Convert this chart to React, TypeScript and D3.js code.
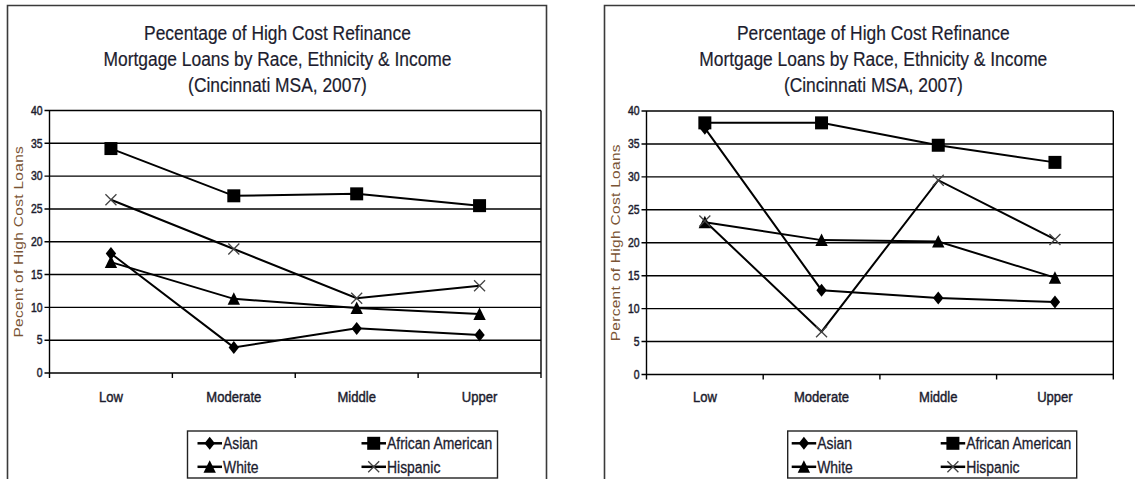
import React from 'react';
import * as d3 from 'd3';

// Income groups along the x axis
const categories = ['Low', 'Moderate', 'Middle', 'Upper'];
const yTicks = [0, 5, 10, 15, 20, 25, 30, 35, 40];
const seriesNames = ['Asian', 'African American', 'White', 'Hispanic'];

// Left panel values (percent)
const leftAsian = [18.2, 3.9, 6.8, 5.8];
const leftAfrican = [34.2, 27.0, 27.3, 25.5];
const leftWhite = [16.9, 11.3, 9.9, 9.0];
const leftHispanic = [26.4, 18.9, 11.4, 13.3];

// Right panel values (percent)
const rightAsian = [37.4, 12.8, 11.6, 11.0];
const rightAfrican = [38.2, 38.2, 34.8, 32.2];
const rightWhite = [23.1, 20.4, 20.2, 14.7];
const rightHispanic = [23.3, 6.5, 29.5, 20.5];

const font = '"Liberation Sans", Arial, sans-serif';
const textColor = '#1c1c2e';
const labelColor = '#7a5434';
const squeeze = 0.87; // the source image is a bit narrowed horizontally

type Panel = {
  frameX: number;
  frameRight: number;
  plotLeft: number;
  plotRight: number;
  plotTop: number;
  plotBottom: number;
  titleX: number;
  title: string[];
  yLabel: string;
  yLabelX: number;
  legendX: number;
  legendW: number;
  legendMark: number;
  legendCol2: number;
  series: number[][];
};

const panels: Panel[] = [
  {
    frameX: 7.5,
    frameRight: 546.5,
    plotLeft: 49.5,
    plotRight: 541,
    plotTop: 110.5,
    plotBottom: 373,
    titleX: 277.5,
    title: [
      'Pecentage of High Cost Refinance',
      'Mortgage Loans by Race, Ethnicity & Income',
      '(Cincinnati MSA, 2007)',
    ],
    yLabel: 'Pecent of High Cost Loans',
    yLabelX: 18.5,
    legendX: 187.5,
    legendW: 310,
    legendMark: 10,
    legendCol2: 164,
    series: [leftAsian, leftAfrican, leftWhite, leftHispanic],
  },
  {
    frameX: 604.5,
    frameRight: 1142,
    plotLeft: 646.5,
    plotRight: 1113.3,
    plotTop: 111,
    plotBottom: 374.5,
    titleX: 873.3,
    title: [
      'Percentage of High Cost Refinance',
      'Mortgage Loans by Race, Ethnicity & Income',
      '(Cincinnati MSA, 2007)',
    ],
    yLabel: 'Percent of High Cost Loans',
    yLabelX: 615.5,
    legendX: 787.7,
    legendW: 289,
    legendMark: 4,
    legendCol2: 149,
    series: [rightAsian, rightAfrican, rightWhite, rightHispanic],
  },
];

// Text squeezed horizontally to match the narrow look of the source
const SText: React.FC<{
  x: number;
  y: number;
  size: number;
  anchor?: 'start' | 'middle' | 'end';
  fill?: string;
  dy?: string;
  bold?: number;
  children: React.ReactNode;
}> = ({ x, y, size, anchor = 'start', fill = textColor, dy, bold = 0, children }) => (
  <text
    transform={`translate(${x},${y}) scale(${squeeze},1)`}
    fontFamily={font}
    fontSize={size}
    textAnchor={anchor}
    fill={fill}
    stroke={bold ? fill : 'none'}
    strokeWidth={bold}
    dy={dy}
  >
    {children}
  </text>
);

// Marker shapes: diamond, square, triangle, cross
const markerPaths = [
  'M0,-6.5L5.2,0L0,6.5L-5.2,0Z',
  'M-6.5,-6.5H6.5V6.5H-6.5Z',
  'M0,-6.5L6.2,6L-6.2,6Z',
];

const Marker: React.FC<{ kind: number; x: number; y: number }> = ({ kind, x, y }) => {
  if (kind === 3) {
    const s = 5.5;
    return (
      <path
        d={`M${x - s},${y - s}L${x + s},${y + s}M${x - s},${y + s}L${x + s},${y - s}`}
        stroke="#444"
        strokeWidth={1.3}
        fill="none"
      />
    );
  }
  return <path d={markerPaths[kind]} transform={`translate(${x},${y})`} fill="#000" />;
};

const ChartPanel: React.FC<{ p: Panel }> = ({ p }) => {
  const x = d3.scaleBand<string>().domain(categories).range([p.plotLeft, p.plotRight]).padding(0);
  const y = d3.scaleLinear().domain([0, 40]).range([p.plotBottom, p.plotTop]);
  const cx = (c: string) => (x(c) ?? 0) + x.bandwidth() / 2;
  const line = d3.line<number>()
    .x((_, i) => cx(categories[i]))
    .y((d) => y(d));
  const inner = categories.slice(1).map((c) => x(c) ?? 0);
  const legendY = 431;

  return (
    <g>
      {/* Outer frame */}
      <path
        d={`M${p.frameX},490V5.5H${p.frameRight}V490`}
        fill="none"
        stroke="#3a3a3a"
        strokeWidth={1.6}
      />

      {/* Title */}
      {p.title.map((t, i) => (
        <SText key={t} x={p.titleX} y={39.5 + i * 26.2} size={20} anchor="middle" bold={0.2}>
          {t}
        </SText>
      ))}

      {/* Gridlines and y ticks */}
      {yTicks.map((t) => (
        <g key={t}>
          <line x1={p.plotLeft - 5} x2={p.plotRight} y1={y(t)} y2={y(t)} stroke="#000" strokeWidth={1.4} />
          <SText x={p.plotLeft - 7} y={y(t)} size={12} anchor="end" dy="0.35em" bold={0.45}>
            {t}
          </SText>
        </g>
      ))}
      <line x1={p.plotLeft} x2={p.plotLeft} y1={p.plotTop} y2={p.plotBottom + 5} stroke="#000" strokeWidth={1.4} />
      <line x1={p.plotRight} x2={p.plotRight} y1={p.plotTop} y2={p.plotBottom + 5} stroke="#000" strokeWidth={1.4} />
      {inner.map((b) => (
        <line key={b} x1={b} x2={b} y1={p.plotBottom} y2={p.plotBottom + 5} stroke="#000" strokeWidth={1.4} />
      ))}

      {/* Category labels */}
      {categories.map((c) => (
        <SText key={c} x={cx(c)} y={401.5} size={15} anchor="middle" bold={0.45}>
          {c}
        </SText>
      ))}

      {/* Y axis title */}
      <text
        transform={`translate(${p.yLabelX},${(p.plotTop + p.plotBottom) / 2}) rotate(-90) scale(1,${squeeze})`}
        textAnchor="middle"
        dy="0.35em"
        fontFamily={font}
        fontSize={15.5}
        fill={labelColor}
        letterSpacing={0.3}
      >
        {p.yLabel}
      </text>

      {/* Series lines and markers */}
      {p.series.map((vals, si) => (
        <g key={seriesNames[si]}>
          <path d={line(vals) ?? ''} fill="none" stroke="#000" strokeWidth={2} />
          {vals.map((v, i) => (
            <Marker key={categories[i]} kind={si} x={cx(categories[i])} y={y(v)} />
          ))}
        </g>
      ))}

      {/* Legend */}
      <rect x={p.legendX} y={legendY} width={p.legendW} height={47} fill="#fff" stroke="#222" strokeWidth={1.4} />
      {seriesNames.map((name, si) => {
        const col = si % 2;
        const row = Math.floor(si / 2);
        const lx = p.legendX + p.legendMark + col * p.legendCol2;
        const ly = legendY + 12.3 + row * 23.5;
        return (
          <g key={name}>
            <line x1={lx} x2={lx + 24.5} y1={ly} y2={ly} stroke="#000" strokeWidth={2.5} />
            <Marker kind={si} x={lx + 12.2} y={ly} />
            <SText x={lx + 25.5} y={ly} size={16} dy="0.36em" bold={0.3}>
              {name}
            </SText>
          </g>
        );
      })}
    </g>
  );
};

const App: React.FC = () => (
  <svg
    width={1135}
    height={479}
    style={{ position: 'absolute', left: 0, top: 0, background: '#fff' }}
  >
    <rect width={1135} height={479} fill="#fff" />
    {panels.map((p) => (
      <ChartPanel key={p.frameX} p={p} />
    ))}
  </svg>
);

export default App;
